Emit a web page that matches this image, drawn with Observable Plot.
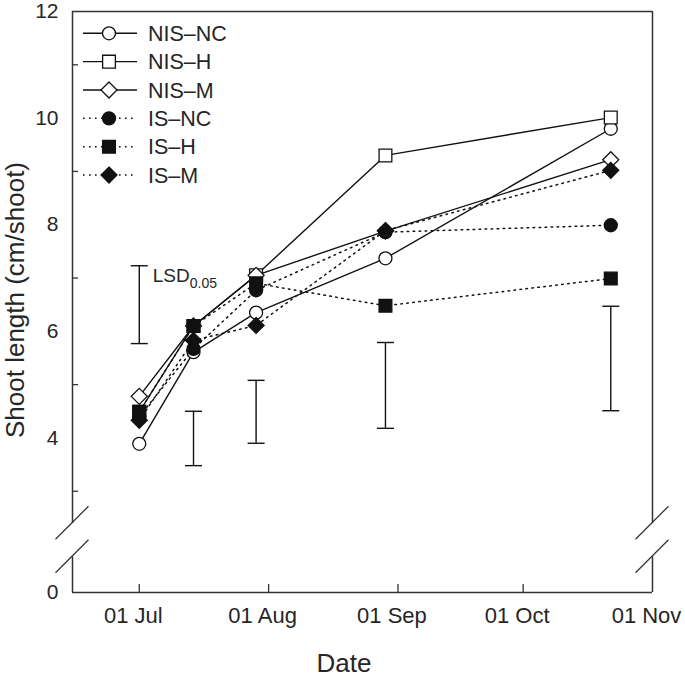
<!DOCTYPE html>
<html><head><meta charset="utf-8">
<script src="https://cdn.jsdelivr.net/npm/d3@7"></script>
<script src="https://cdn.jsdelivr.net/npm/@observablehq/plot@0.6"></script>
<style>
body{margin:0;background:#fff;}
svg{font-family:"Liberation Sans",Arial,Helvetica,sans-serif;}
</style>
</head><body><div id="chart"></div>
<script>
// ---- data ----
const sampleDates = ["2011-07-01","2011-07-14","2011-07-29","2011-08-29","2011-10-22"];
const seriesNames = ["NIS–NC","NIS–H","NIS–M","IS–NC","IS–H","IS–M"];
const nisNC = [3.89, 5.61, 6.35, 7.37, 9.80];
const nisH  = [4.49, 6.10, 7.05, 9.30, 10.01];
const nisM  = [4.78, 6.10, 7.05, 7.88, 9.22];
const isNC  = [4.40, 5.67, 6.77, 7.86, 7.99];
const isH   = [4.49, 6.10, 6.90, 6.48, 6.99];
const isM   = [4.33, 5.83, 6.11, 7.89, 9.02];
const lsdDates = ["2011-07-01","2011-07-14","2011-07-29","2011-08-29","2011-10-22"];
const lsdLow  = [5.77, 3.48, 3.90, 4.18, 4.51];
const lsdHigh = [7.23, 4.50, 5.08, 5.79, 6.47];
const xTickDates = ["2011-07-01","2011-08-01","2011-09-01","2011-10-01","2011-11-01"];
const xTickLabels = ["01 Jul","01 Aug","01 Sep","01 Oct","01 Nov"];
const yLabelValues = [4, 6, 8, 10, 12];
const yMinorTicks = [3, 5, 7, 9, 11];
const yBottom = 1.1;            // axis bottom, labelled "0" below the break
const breakTop = 2.4, breakBottom = 1.77;
const xDomain = ["2011-06-15","2011-11-01"];

// ---- build tables ----
const parse = s => new Date(s + "T00:00:00Z");
const values = [nisNC, nisH, nisM, isNC, isH, isM];
const styles = [
  {symbol: "circle", r: 6.5, fill: "white", dash: null},
  {symbol: "square", r: 7.2, fill: "white", dash: null},
  {symbol: "diamond2", r: 7.2, fill: "white", dash: null},
  {symbol: "circle", r: 6.5, fill: "#111", dash: "1.6,4.4"},
  {symbol: "square", r: 7.2, fill: "#111", dash: "1.6,4.4"},
  {symbol: "diamond2", r: 7.2, fill: "#111", dash: "1.6,4.4"}
];
const series = seriesNames.map((name, i) => ({
  name, style: styles[i],
  data: sampleDates.map((d, j) => ({date: parse(d), value: values[i][j]}))
}));
const lsd = lsdDates.map((d, i) => ({date: parse(d), lo: lsdLow[i], hi: lsdHigh[i]}));
const xmin = parse(xDomain[0]), xmax = parse(xDomain[1]);
const ink = "#111", axisInk = "#333", textInk = "#262626";
const cap = {draw(ctx) { ctx.moveTo(-8.5, 0); ctx.lineTo(8.5, 0); }};
const xTicks = xTickDates.map(parse);

const marks = [
  // frame with breaks
  Plot.ruleY([12], {stroke: axisInk, strokeWidth: 1.5}),
  Plot.ruleY([yBottom], {stroke: axisInk, strokeWidth: 1.5}),
  Plot.ruleX([xmin, xmax], {y1: 12, y2: breakTop, stroke: axisInk, strokeWidth: 1.5}),
  Plot.ruleX([xmin, xmax], {y1: breakBottom, y2: yBottom, stroke: axisInk, strokeWidth: 1.5}),
  // LSD bars
  Plot.ruleX(lsd, {x: "date", y1: "lo", y2: "hi", stroke: ink, strokeWidth: 1.4}),
  Plot.dot(lsd, {x: "date", y: "lo", symbol: cap, stroke: ink, strokeWidth: 1.4, fill: "none"}),
  Plot.dot(lsd, {x: "date", y: "hi", symbol: cap, stroke: ink, strokeWidth: 1.4, fill: "none"})
];
for (const s of series) {
  marks.push(Plot.line(s.data, {x: "date", y: "value", stroke: ink,
    strokeWidth: s.style.dash ? 1.5 : 1.4, strokeDasharray: s.style.dash}));
}
for (const s of series) {
  marks.push(Plot.dot(s.data, {x: "date", y: "value", symbol: s.style.symbol, r: s.style.r,
    fill: s.style.fill, stroke: ink, strokeWidth: 1.3}));
}
// axes
marks.push(
  Plot.axisY([yBottom, ...yLabelValues], {tickSize: 0, tickPadding: 14, fontSize: 21,
    tickFormat: d => d === yBottom ? "0" : String(d), label: null}),
  Plot.axisY(yMinorTicks, {tickSize: 6, dx: 6, tickFormat: () => "", label: null, stroke: axisInk, strokeWidth: 1.3}),
  Plot.axisX(xTicks, {tickSize: 0, tickPadding: 15, fontSize: 22, dx: -6,
    tickFormat: d => xTickLabels[xTicks.findIndex(t => +t === +d)], label: null}),
  Plot.axisX(xTicks.slice(0, 4), {tickSize: 8, dy: -8, tickFormat: () => "", label: null, stroke: axisInk, strokeWidth: 1.3})
);

const svg = Plot.plot({
  width: 685, height: 681,
  marginLeft: 72, marginRight: 33, marginTop: 11, marginBottom: 89,
  x: {type: "utc", domain: [xmin, xmax]},
  y: {type: "linear", domain: [yBottom, 12]},
  style: {fontFamily: '"Liberation Sans",Arial,Helvetica,sans-serif', fontSize: "21px", color: textInk, background: "white"},
  marks
});
document.getElementById("chart").appendChild(svg);

// ---- decorations positioned from Plot's scales ----
const xs = svg.scale("x"), ys = svg.scale("y");
const g = d3.select(svg).append("g").attr("text-anchor", "start");
const X0 = xs.apply(xmin), X1 = xs.apply(xmax);
for (const X of [X0, X1]) {
  for (const v of [breakTop, breakBottom]) {
    const Y = ys.apply(v);
    g.append("line").attr("x1", X - 16.5).attr("y1", Y + 16.5).attr("x2", X + 16.5).attr("y2", Y - 16.5)
      .attr("stroke", axisInk).attr("stroke-width", 1.3);
  }
}
// axis titles
g.append("text").attr("transform", "translate(24,300) rotate(-90)").attr("text-anchor", "middle")
  .attr("font-size", 26).attr("fill", textInk).text("Shoot length (cm/shoot)");
g.append("text").attr("x", 344).attr("y", 672).attr("text-anchor", "middle")
  .attr("font-size", 26).attr("fill", textInk).text("Date");
// LSD label next to the first bar
const lsdX = xs.apply(lsd[0].date) + 14, lsdY = ys.apply(lsd[0].hi) + 17;
const lt = g.append("text").attr("x", lsdX).attr("y", lsdY).attr("font-size", 19).attr("fill", textInk)
  .attr("text-anchor", "start");
lt.append("tspan").text("LSD");
lt.append("tspan").attr("dy", 6).attr("font-size", 14).text("0.05");
// legend
const symbolTypes = {circle: d3.symbolCircle, square: d3.symbolSquare, diamond2: d3.symbolDiamond2};
series.forEach((s, i) => {
  const cy = 33.3 + i * 28.35;
  g.append("line").attr("x1", 83).attr("x2", 137).attr("y1", cy).attr("y2", cy)
    .attr("stroke", ink).attr("stroke-width", s.style.dash ? 1.5 : 1.4).attr("stroke-dasharray", s.style.dash);
  g.append("path").attr("transform", `translate(109,${cy})`)
    .attr("d", d3.symbol(symbolTypes[s.style.symbol], Math.PI * s.style.r * s.style.r)())
    .attr("fill", s.style.fill).attr("stroke", ink).attr("stroke-width", 1.3);
  g.append("text").attr("x", 148).attr("y", cy + 7.5).attr("font-size", 21.5).attr("fill", textInk)
    .attr("text-anchor", "start").text(s.name);
});
</script>
</body></html>
